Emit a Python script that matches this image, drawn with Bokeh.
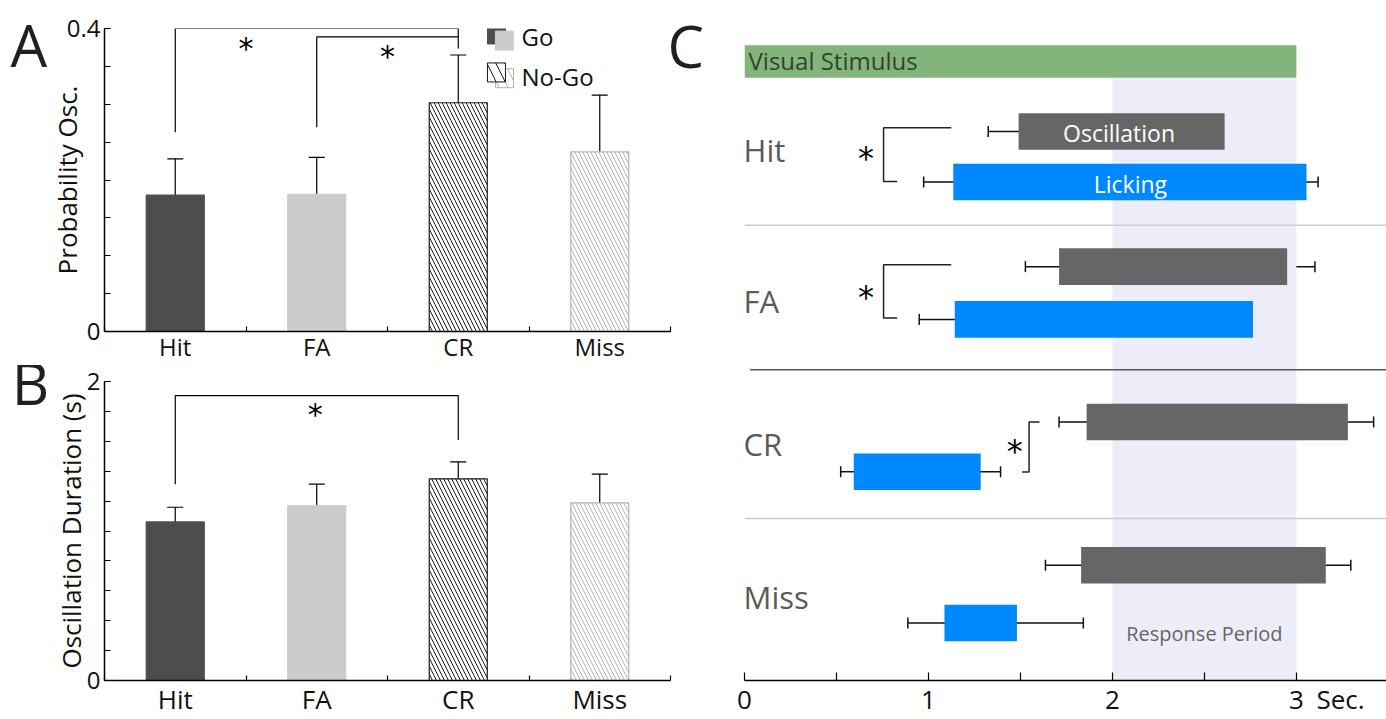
from bokeh.plotting import figure
from bokeh.models import Range1d, FixedTicker, ColumnDataSource, Whisker, TeeHead, Label
from bokeh.layouts import row, column
from bokeh.embed import file_html
from bokeh.resources import INLINE
from bokeh.core.properties import value

FONT = "Open Sans"
STAR_FONT = "DejaVu Sans"

# ---------------- data ----------------
categories = ["Hit", "FA", "CR", "Miss"]
prob_osc = [0.180, 0.181, 0.302, 0.237]
prob_osc_err = [0.048, 0.049, 0.063, 0.075]
osc_duration = [1.061, 1.170, 1.349, 1.188]
osc_duration_err = [0.098, 0.144, 0.114, 0.193]

# panel C (seconds)
osc_start = [1.49, 1.71, 1.86, 1.83]
osc_end = [2.61, 2.95, 3.28, 3.16]
osc_start_lo = [1.325, 1.527, 1.710, 1.636]
osc_start_hi = [1.656, 1.897, 2.016, 2.035]
osc_end_lo = [2.423, 2.788, 3.144, 3.018]
osc_end_hi = [2.815, 3.101, 3.420, 3.296]
lick_start = [1.135, 1.143, 0.594, 1.087]
lick_end = [3.055, 2.764, 1.284, 1.481]
lick_start_lo = [0.974, 0.950, 0.523, 0.888]
lick_start_hi = [1.299, 1.332, 0.660, 1.126]
lick_end_lo = [2.995, 2.664, 1.176, 1.292]
lick_end_hi = [3.118, 2.869, 1.392, 1.842]
stim_start, stim_end = 0.0, 3.0
resp_start, resp_end = 2.0, 3.0

# ---------------- styles ----------------
bar_fill = ["#4d4d4d", "#cccccc", "white", "white"]
bar_line = ["#4d4d4d", "#cccccc", "#1a1a1a", "#b3b3b3"]
bar_hatch = [" ", " ", "left_diagonal_line", "left_diagonal_line"]
cat_x = [i + 0.5 for i in range(len(categories))]


def blank(p):
    p.xgrid.visible = False
    p.ygrid.visible = False
    p.outline_line_color = None


def style_axes(p, yticks, yminor, yover, ylabel, ylabel_standoff, xstandoff, xsize):
    blank(p)
    ax = p.xaxis[0]
    ax.ticker = FixedTicker(ticks=cat_x, minor_ticks=[0, 1, 2, 3, 4])
    ax.major_label_overrides = {x: c for x, c in zip(cat_x, categories)}
    ax.major_tick_in = 0
    ax.major_tick_out = 0
    ax.minor_tick_in = 5
    ax.minor_tick_out = 0
    ax.major_label_standoff = xstandoff
    ax.major_label_text_font_size = xsize
    ay = p.yaxis[0]
    ay.ticker = FixedTicker(ticks=yticks, minor_ticks=yminor)
    ay.major_label_overrides = yover
    ay.major_tick_in = 6
    ay.major_tick_out = 0
    ay.minor_tick_in = 6
    ay.minor_tick_out = 0
    ay.major_label_standoff = 4
    ay.major_label_text_font_size = "24px"
    ay.axis_label = ylabel
    ay.axis_label_standoff = ylabel_standoff
    ay.axis_label_text_font = FONT
    ay.axis_label_text_font_size = "26px"
    ay.axis_label_text_font_style = "normal"
    ay.axis_label_text_color = "#111111"
    for a in (ax, ay):
        a.axis_line_color = "black"
        a.axis_line_width = 1.5
        a.major_tick_line_color = "black"
        a.minor_tick_line_color = "black"
        a.major_tick_line_width = 1.2
        a.minor_tick_line_width = 1.2
        a.major_label_text_font = FONT
        a.major_label_text_color = "#111111"


def bar_panel(p, vals, errs, bw):
    src = ColumnDataSource(dict(x=cat_x, top=vals, fill=bar_fill, line=bar_line,
                                hatch=bar_hatch, hcolor=bar_line,
                                lo=[v - e for v, e in zip(vals, errs)],
                                hi=[v + e for v, e in zip(vals, errs)]))
    p.vbar(x="x", top="top", bottom=0, width=bw, source=src, fill_color="fill",
           line_color="line", line_width=1.2, hatch_pattern="hatch",
           hatch_color="hcolor", hatch_scale=8, hatch_weight=1)
    w = Whisker(source=src, base="x", lower="lo", upper="hi", dimension="height",
                line_color="black", line_width=1.2,
                upper_head=TeeHead(size=16, line_color="black", line_width=1.2),
                lower_head=TeeHead(size=16, line_color="black", line_width=1.2))
    p.add_layout(w)


def brackets(p, left_cat, right_cat, left_bottom, top, right_bottom, star_x, star_y, size):
    xs, ys = [], []
    for lc, rc, lb, t, rb in zip(left_cat, right_cat, left_bottom, top, right_bottom):
        x0 = cat_x[categories.index(lc)]
        x1 = cat_x[categories.index(rc)]
        xs.append([x0, x0, x1, x1])
        ys.append([lb, t, t, rb])
    p.multi_line(xs=xs, ys=ys, line_color="black", line_width=1.2)
    p.text(x=star_x, y=star_y, text=["*"] * len(star_x), text_font=value(STAR_FONT),
           text_font_size=size, text_align="center", text_baseline="middle",
           text_color="black")


def panel_letter(p, x, y, letter, side):
    p.add_layout(Label(x=x, y=y, x_units="data", y_units="data", text=letter,
                       text_font=FONT, text_font_size="58px", text_color="#231f20",
                       text_baseline="middle", text_align="left"), side)


# ---------------- panel A ----------------
pA = figure(width=715, height=365, x_range=Range1d(0, 4), y_range=Range1d(0, 0.4),
            toolbar_location=None, output_backend="svg",
            min_border_left=104, min_border_right=45, min_border_top=28,
            min_border_bottom=32)
style_axes(pA, [0, 0.4], [round(0.05 * i, 2) for i in range(9)], {0: "0", 0.4: "0.4"},
           "Probability Osc.", -21, -2, "24px")
bar_panel(pA, prob_osc, prob_osc_err, 0.41)
brackets(pA, ["Hit", "FA"], ["CR", "CR"], [0.263, 0.2695], [0.4, 0.389], [0.3737, 0.389],
         [1.0, 2.0], [0.374, 0.3624], "30px")

# legend (custom overlapping swatches)
pA.rect(x=[2.770], y=[0.3921], width=18, height=19, width_units="screen",
        height_units="screen", fill_color="#4d4d4d", line_color="#4d4d4d")
pA.rect(x=[2.826], y=[0.3840], width=18, height=19, width_units="screen",
        height_units="screen", fill_color="#cccccc", line_color="#cccccc")
pA.rect(x=[2.827], y=[0.3344], width=18, height=19, width_units="screen",
        height_units="screen", fill_color="white", line_color="#b3b3b3",
        hatch_pattern="left_diagonal_line", hatch_color="#b3b3b3", hatch_scale=18,
        hatch_weight=1)
pA.rect(x=[2.770], y=[0.3420], width=18, height=19, width_units="screen",
        height_units="screen", fill_color="white", line_color="#1a1a1a",
        hatch_pattern="left_diagonal_line", hatch_color="#1a1a1a", hatch_scale=18,
        hatch_weight=1)
pA.text(x=[2.947, 2.947], y=[0.3890, 0.3365], text=["Go", "No-Go"],
        text_font=value(FONT), text_font_size="24px", text_baseline="middle",
        text_color="#111111")

# panel letters (data units of panel A: x in category units, y in probability)
panel_letter(pA, -0.664, 0.3787, "A", "left")
panel_letter(pA, 3.979, 0.3780, "C", "right")

# ---------------- panel B ----------------
pB = figure(width=715, height=354, x_range=Range1d(0, 4), y_range=Range1d(0, 2),
            toolbar_location=None, output_backend="svg",
            min_border_left=102, min_border_right=34, min_border_top=16,
            min_border_bottom=36)
style_axes(pB, [0, 2], [round(0.2 * i, 1) for i in range(11)], {0: "0", 2: "2"},
           "Oscillation Duration (s)", -5, 0, "26px")
bar_panel(pB, osc_duration, osc_duration_err, 0.41)
brackets(pB, ["Hit"], ["CR"], [1.312], [1.906], [1.609], [1.49], [1.776], "30px")
panel_letter(pB, -0.655, 1.994, "B", "left")

# ---------------- panel C ----------------
C_XMAX = 3.49
pC = figure(width=671, height=719, x_range=Range1d(0, C_XMAX), y_range=Range1d(683, 0),
            toolbar_location=None, output_backend="svg", y_axis_location=None,
            min_border_left=29, min_border_right=0, min_border_top=0,
            min_border_bottom=36)
blank(pC)
cx = pC.xaxis[0]
cx.ticker = FixedTicker(ticks=[0, 1, 2, 3, 3.24], minor_ticks=[0, 0.5, 1, 1.5, 2, 2.5, 3])
cx.major_label_overrides = {0: "0", 1: "1", 2: "2", 3: "3", 3.24: "Sec."}
cx.major_tick_in = 0
cx.major_tick_out = 0
cx.minor_tick_in = 8
cx.minor_tick_out = 0
cx.minor_tick_line_color = "black"
cx.minor_tick_line_width = 1.2
cx.major_label_standoff = 0
cx.major_label_text_font = FONT
cx.major_label_text_font_size = "26px"
cx.major_label_text_color = "#111111"
cx.axis_line_color = "black"
cx.axis_line_width = 1.5

# row layout (vertical positions, px from top of panel)
osc_y = [131.5, 267.3, 423.3, 567.3]
lick_y = [182.3, 320.3, 473.3, 625.3]
row_label_y = [150.0, 301.7, 445.0, 599.2]
BAR_H = 36.7
STIM_TOP, STIM_BOTTOM = 45, 77.7

pC.quad(left=[resp_start], right=[resp_end], top=[STIM_BOTTOM], bottom=[683],
        fill_color="#ededfa", line_color=None)
pC.quad(left=[stim_start], right=[stim_end], top=[STIM_TOP], bottom=[STIM_BOTTOM],
        fill_color="#82b47b", line_color=None)
pC.text(x=[stim_start + 0.022], y=[60], text=["Visual Stimulus"], text_font=value(FONT),
        text_font_size="24px", text_color="#33432f", text_baseline="middle")

# separators
pC.segment(x0=[0, 0.03, 0], x1=[C_XMAX] * 3, y0=[225.7, 371, 520.3], y1=[225.7, 371, 520.3],
           line_color=["#cccccc", "#555555", "#cccccc"], line_width=1.5)

pC.hbar(y=osc_y, left=osc_start, right=osc_end, height=BAR_H, fill_color="#666666",
        line_color=None)
pC.hbar(y=lick_y, left=lick_start, right=lick_end, height=BAR_H, fill_color="#0088ff",
        line_color=None)

wsrc = ColumnDataSource(dict(
    y=osc_y + osc_y + lick_y + lick_y,
    lo=osc_start_lo + osc_end_lo + lick_start_lo + lick_end_lo,
    hi=osc_start_hi + osc_end_hi + lick_start_hi + lick_end_hi))
pC.add_layout(Whisker(source=wsrc, base="y", lower="lo", upper="hi", dimension="width",
                      line_color="#111111", line_width=1.5,
                      upper_head=TeeHead(size=11, line_color="#111111", line_width=1.5),
                      lower_head=TeeHead(size=11, line_color="#111111", line_width=1.5)))

pC.text(x=[-0.005] * 4, y=row_label_y, text=categories, text_font=value(FONT),
        text_font_size="31px", text_color="#5a5a5a", text_baseline="middle")
pC.text(x=[2.036, 2.098], y=[133, 184], text=["Oscillation", "Licking"],
        text_font=value(FONT), text_font_size="23px", text_color="white",
        text_align="center", text_baseline="middle")
pC.text(x=[(resp_start + resp_end) / 2], y=[636], text=["Response Period"],
        text_font=value(FONT), text_font_size="20px", text_color="#666666",
        text_align="center", text_baseline="middle")

# significance brackets in C
c_vx = [0.756, 0.756, 1.547]
c_top_end = [1.124, 1.124, 1.604]
c_bot_end = [0.830, 0.830, 1.509]
c_top_y = [127.7, 265.3, 423.3]
c_bot_y = [181.7, 319.0, 473.7]
pC.multi_line(xs=[[a, v, v, b] for a, v, b in zip(c_top_end, c_vx, c_bot_end)],
              ys=[[t, t, b, b] for t, b in zip(c_top_y, c_bot_y)],
              line_color="#222222", line_width=1.5)
pC.text(x=[0.661, 0.661, 1.469], y=[158, 298, 452], text=["*"] * 3,
        text_font=value(STAR_FONT), text_font_size="32px", text_align="center",
        text_baseline="middle", text_color="black")

layout = row(column(pA, pB), pC)
open("out.html", "w").write(file_html(layout, INLINE))
